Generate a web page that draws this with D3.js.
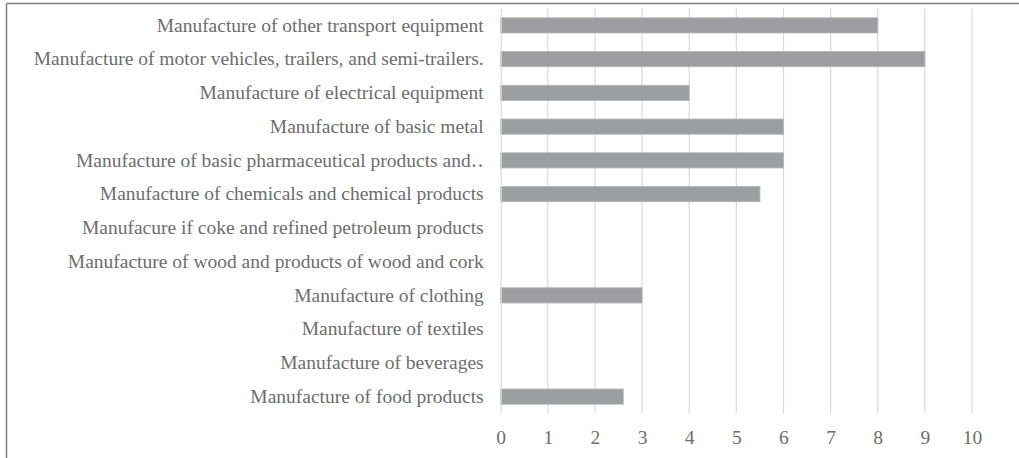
<!DOCTYPE html>
<html><head><meta charset="utf-8">
<script src="https://cdn.jsdelivr.net/npm/d3@7"></script>
<style>body{margin:0;background:#fff}svg{display:block}
svg text{font-family:"Liberation Serif","Times New Roman","DejaVu Serif",serif !important;}</style>
</head><body>
<script>
const categories = [
  "Manufacture of other transport equipment",
  "Manufacture of motor vehicles, trailers, and semi-trailers.",
  "Manufacture of electrical equipment",
  "Manufacture of basic metal",
  "Manufacture of basic pharmaceutical products and\u2025",
  "Manufacture of chemicals and chemical products",
  "Manufacure if coke and refined petroleum products",
  "Manufacture of wood and products of wood and cork",
  "Manufacture of clothing",
  "Manufacture of textiles",
  "Manufacture of beverages",
  "Manufacture of food products"
];
const values = [8, 9, 4, 6, 6, 5.5, 0, 0, 3, 0, 0, 2.6];
const tickValues = [0,1,2,3,4,5,6,7,8,9,10];

const W = 1019, H = 458;
const svg = d3.select("body").append("svg").attr("width", W).attr("height", H);
const x = d3.scaleLinear().domain([0, 10]).range([500.7, 972]);
const y = d3.scaleBand().domain(categories).range([8.5, 413.5]).paddingInner(0.55).paddingOuter(0.275);

svg.append("line").attr("x1", 6.5).attr("x2", W).attr("y1", 3.5).attr("y2", 3.5).attr("stroke", "#7f7f7f").attr("stroke-width", 1.5);
svg.append("line").attr("x1", 6.5).attr("x2", 6.5).attr("y1", 3.5).attr("y2", H).attr("stroke", "#7f7f7f").attr("stroke-width", 1.5);

svg.append("g").selectAll("line").data(tickValues.slice(1)).join("line")
  .attr("x1", d => x(d)).attr("x2", d => x(d)).attr("y1", 8.5).attr("y2", 413.5)
  .attr("stroke", "#d9d9d9").attr("stroke-width", 1.2);

svg.append("g").selectAll("rect").data(values).join("rect")
  .attr("x", x(0)).attr("y", (d, i) => y(categories[i]))
  .attr("width", d => x(d) - x(0)).attr("height", y.bandwidth())
  .attr("fill", "#9d9ea1").attr("stroke", d => d > 0 ? "#b4b5b8" : "none").attr("stroke-width", 0.8);

const yAxis = d3.axisLeft(y).tickSize(0).tickPadding(17);
const gy = svg.append("g").attr("transform", `translate(${x(0)},0)`).call(yAxis);
gy.attr("font-family", null);
gy.select(".domain").attr("stroke", "#d9d9d9").attr("stroke-width", 1.2);
gy.selectAll("text").attr("font-size", 19.5).attr("fill", "#6d6d6d");

const xAxis = d3.axisBottom(x).tickValues(tickValues).tickSize(0).tickPadding(17).tickFormat(d3.format("d"));
const gx = svg.append("g").attr("transform", `translate(0,413.5)`).call(xAxis);
gx.attr("font-family", null);
gx.select(".domain").remove();
gx.selectAll("text").attr("font-size", 19.5).attr("fill", "#6d6d6d");
</script>
</body></html>
